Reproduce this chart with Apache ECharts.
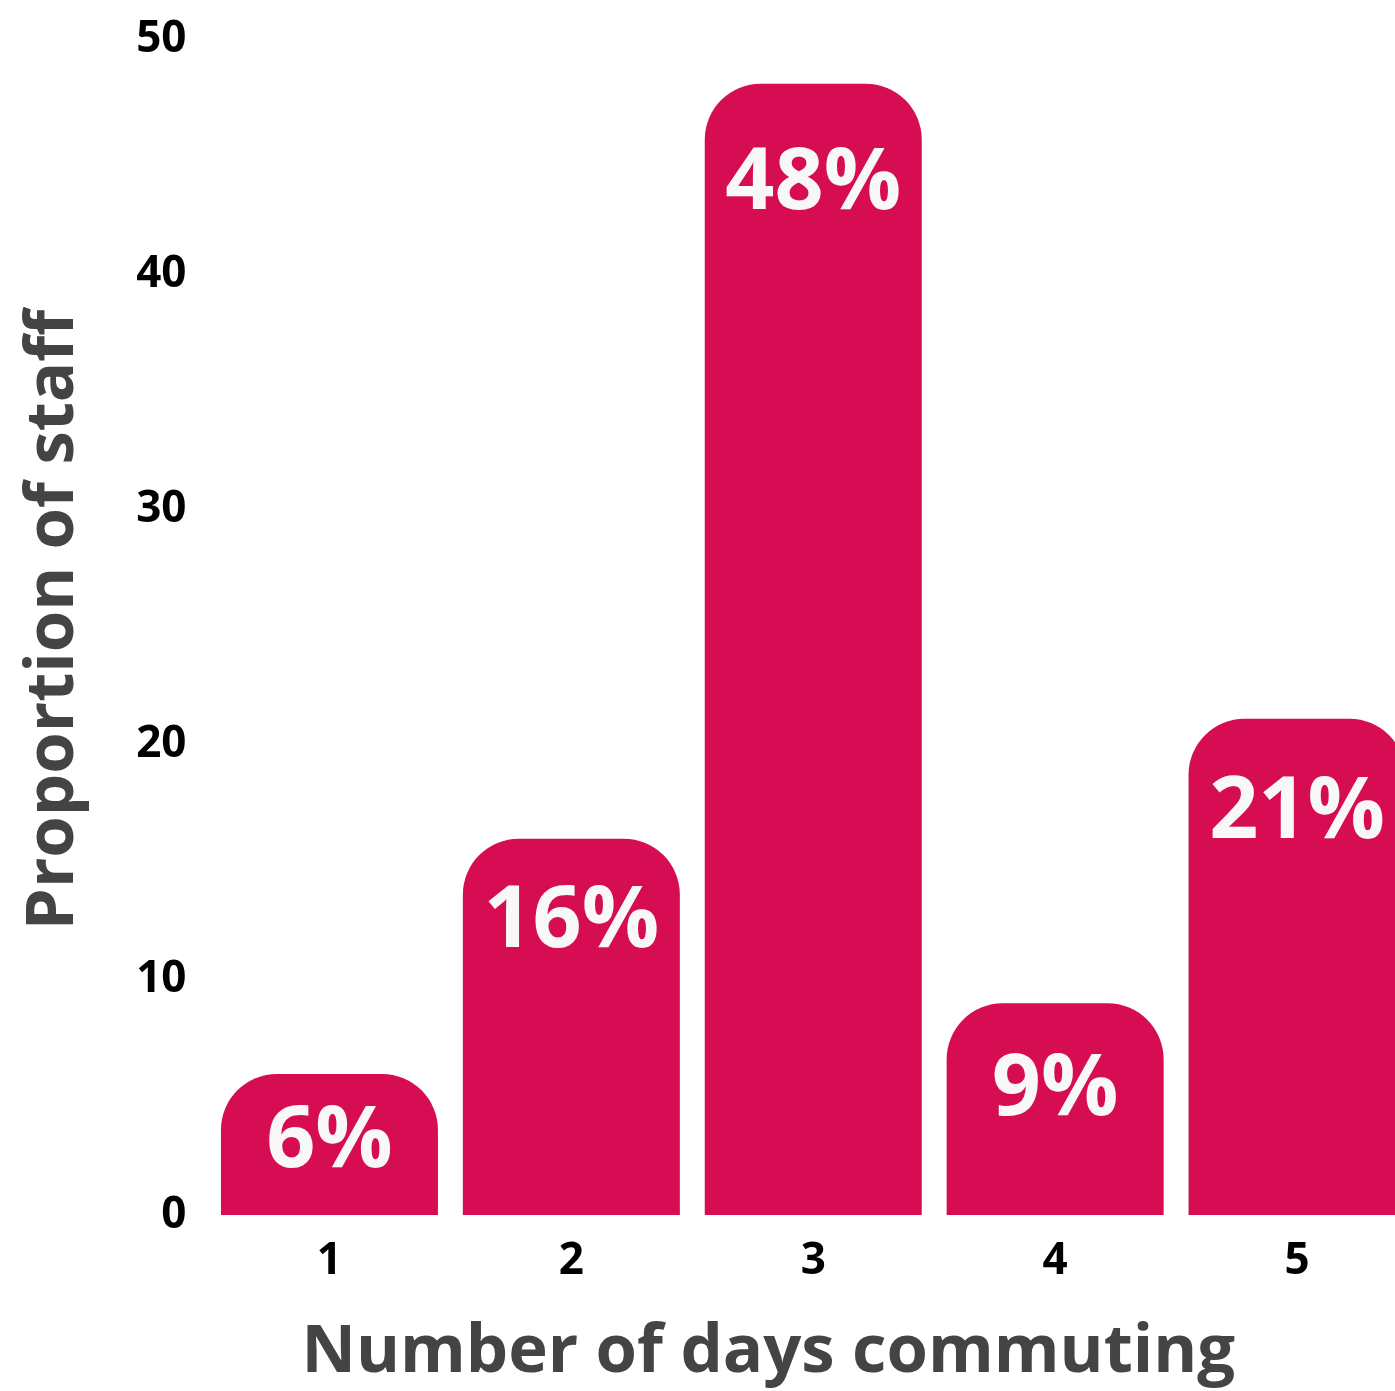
<!DOCTYPE html>
<html>
<head>
<meta charset="utf-8">
<script src="https://cdn.jsdelivr.net/npm/echarts@6/dist/echarts.min.js"></script>
<style>
html,body{margin:0;padding:0;background:#fff;overflow:hidden;width:1395px;height:1391px;}
#chart{width:1420px;height:1391px;}
</style>
</head>
<body>
<div id="chart"></div>
<script>
const categories = ['1', '2', '3', '4', '5'];
const values = [6, 16, 48.1, 9, 21.1];
const valueLabels = ['6%', '16%', '48%', '9%', '21%'];
const yTicks = [0, 10, 20, 30, 40, 50];

const labelDistance = [26, 41, 58, 44, 52];

const chart = echarts.init(document.getElementById('chart'));
const FONT = '"Open Sans", "DejaVu Sans", sans-serif';

const option = {
  backgroundColor: '#ffffff',
  animation: false,
  grid: { left: 208.5, right: 2, top: 39, bottom: 166, containLabel: false },
  xAxis: {
    type: 'category',
    data: categories,
    axisLine: { show: false },
    axisTick: { show: false },
    axisLabel: { color: '#000', fontFamily: FONT, fontWeight: 700, fontSize: 44, margin: 24 },
    name: 'Number of days commuting',
    nameLocation: 'middle',
    nameGap: 104,
    nameTextStyle: { color: '#444444', fontFamily: FONT, fontWeight: 700, fontSize: 67, padding: [0, 90, 0, 0] }
  },
  yAxis: {
    type: 'value',
    min: yTicks[0],
    max: yTicks[yTicks.length - 1],
    interval: yTicks[1] - yTicks[0],
    splitLine: { show: false },
    axisLine: { show: false },
    axisTick: { show: false },
    axisLabel: { color: '#000', fontFamily: FONT, fontWeight: 700, fontSize: 44, margin: 22 },
    name: 'Proportion of staff',
    nameLocation: 'middle',
    nameGap: 121,
    nameTextStyle: { color: '#444444', fontFamily: FONT, fontWeight: 700, fontSize: 67, padding: [0, 0, 0, 14] }
  },
  series: [{
    type: 'bar',
    barWidth: 217,
    data: values.map((v, i) => ({
      value: v,
      label: { distance: labelDistance[i] }
    })),
    itemStyle: { color: '#D60D52', borderRadius: [56, 56, 0, 0] },
    label: {
      show: true,
      position: 'insideTop',
      color: '#F8F8F8',
      fontFamily: FONT,
      fontWeight: 700,
      fontSize: 86,
      formatter: p => valueLabels[p.dataIndex]
    }
  }]
};
chart.setOption(option);
</script>
</body>
</html>
